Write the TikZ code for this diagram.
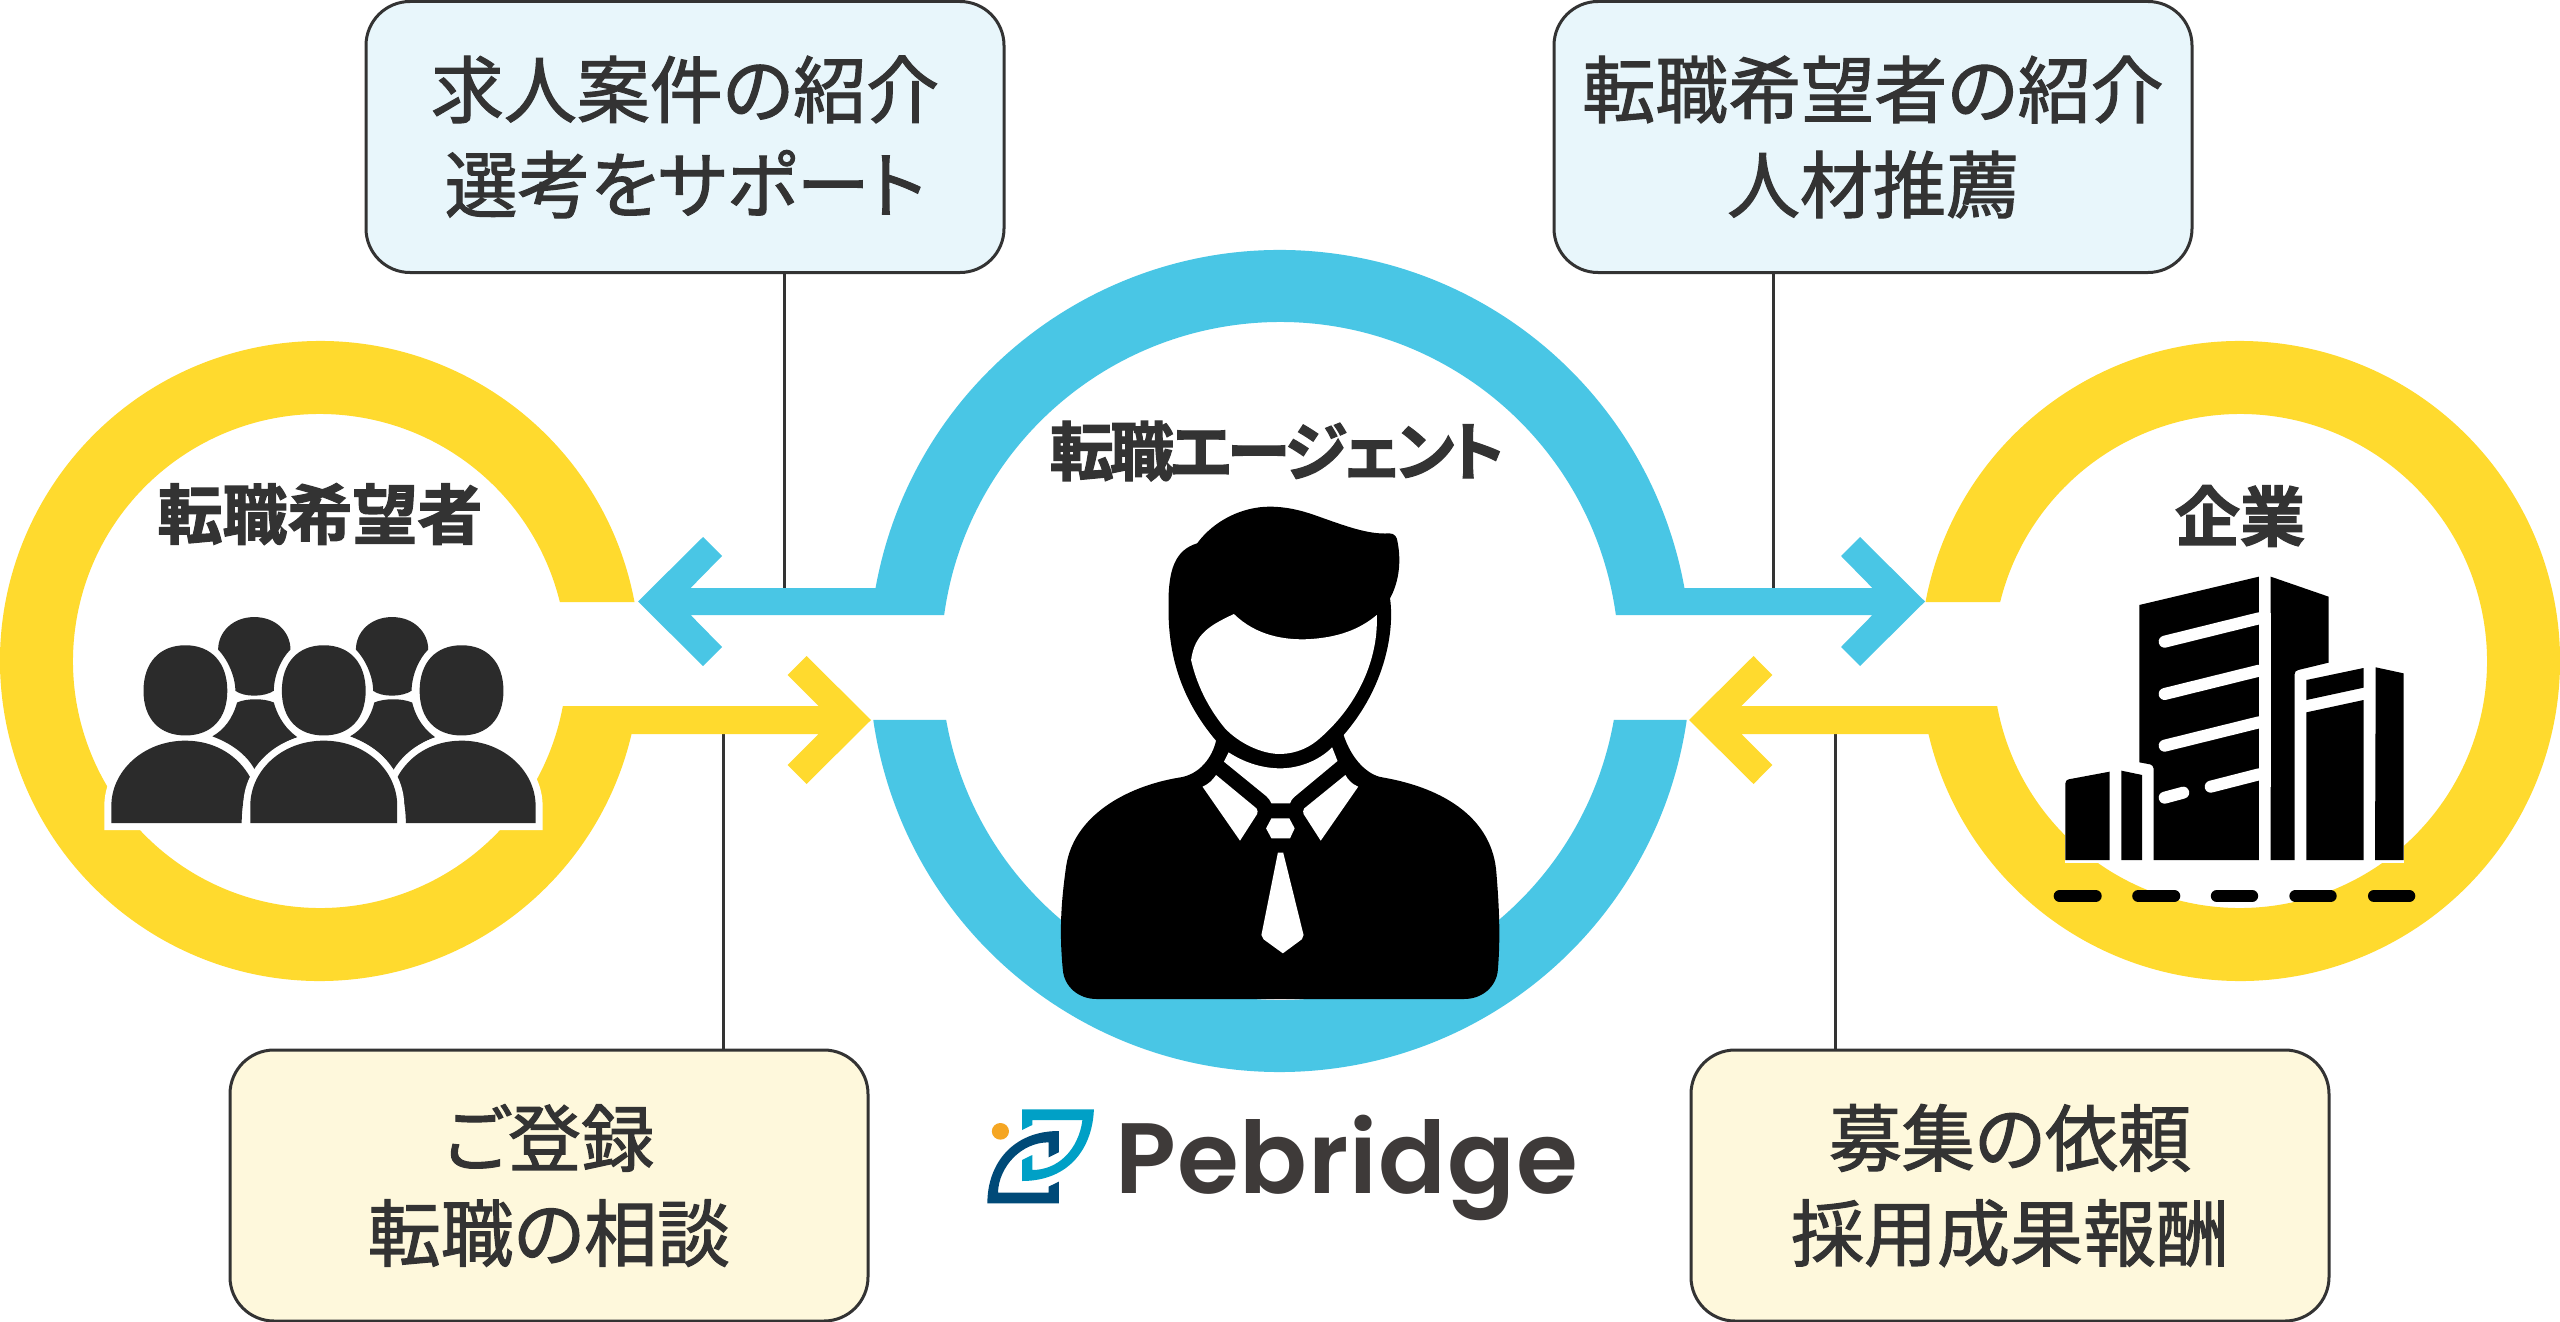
\documentclass[tikz,border=0pt]{standalone}
\usepackage{fontspec}
\newfontfamily\boxfont[FakeBold=1.5,RawFeature=+palt]{Noto Sans CJK JP}
\newfontfamily\headfont[FakeBold=2,RawFeature=+palt]{Noto Sans CJK JP Bold}
\newfontfamily\headtight[FakeBold=2,RawFeature=+palt,LetterSpace=-6]{Noto Sans CJK JP Bold}
\newfontfamily\logofont[LetterSpace=1]{Poppins SemiBold}
\definecolor{ringyellow}{HTML}{FFDA2E}
\definecolor{ringblue}{HTML}{49C6E5}
\definecolor{boxblue}{HTML}{E8F6FB}
\definecolor{boxyellow}{HTML}{FEF8DC}
\definecolor{ink}{HTML}{333333}
\definecolor{peoplegray}{HTML}{2B2B2B}
\definecolor{logolight}{HTML}{00A0C6}
\definecolor{logodark}{HTML}{004A78}
\definecolor{logoorange}{HTML}{F5A623}
\definecolor{logotext}{HTML}{3E3A39}
\tikzset{
  infobox/.style={draw=ink,line width=3pt,rounded corners=44pt,minimum width=638pt,minimum height=271pt,inner sep=0pt,align=center,text=ink,font=\boxfont\fontsize{73}{95}\selectfont},
  bluebox/.style={infobox,fill=boxblue},
  yellowbox/.style={infobox,fill=boxyellow},
  heading/.style={text=ink,inner sep=0pt,font=\headfont\fontsize{65}{65}\selectfont},
  headingtight/.style={text=ink,inner sep=0pt,font=\headtight\fontsize{64}{64}\selectfont},
  conn/.style={draw=ink,line width=3pt},
  manicon/.style={shift={(1000,500)},xscale=0.35714,yscale=0.33333},
  bldicon/.style={shift={(1900,520)},xscale=0.35714,yscale=0.33333},
  pplicon/.style={shift={(0,320)},xscale=0.57405,yscale=0.43367},
  logoicon/.style={shift={(960,1080)},xscale=0.40816,yscale=0.33333},
}
\newcommand{\fronthead}[1]{(#1-73,855) .. controls (#1-73,790) and (#1-45,750) .. (#1,750) .. controls (#1+45,750) and (#1+73,790) .. (#1+73,855) .. controls (#1+73,920) and (#1+45,958) .. (#1,958) .. controls (#1-45,958) and (#1-73,920) .. (#1-73,855) -- cycle}
\newcommand{\sideL}{(194,1160) -- (194,1120) .. controls (194,1040) and (250,970) .. (323,970) .. controls (375,970) and (415,1005) .. (436,1055) .. controls (425,1090) and (421,1125) .. (421,1160) -- cycle}
\newcommand{\sideR}{(933,1160) -- (933,1120) .. controls (933,1040) and (877,970) .. (804,970) .. controls (752,970) and (712,1005) .. (692,1055) .. controls (702,1090) and (707,1125) .. (707,1160) -- cycle}
\newcommand{\midbody}{(436,1160) -- (436,1120) .. controls (436,1040) and (490,970) .. (564,970) .. controls (638,970) and (692,1040) .. (692,1120) -- (692,1160) -- cycle}
\begin{document}
\begin{tikzpicture}[x=1pt,y=1pt,yscale=-1]
\useasboundingbox (0,0) rectangle (2560,1322);
\fill[white] (0,0) rectangle (2560,1322);
% boxes
\node[bluebox] (tl) at (685,137) {求人案件の紹介\\選考をサポート};
\node[bluebox] (tr) at (1873,137) {転職希望者の紹介\\人材推薦};
\node[yellowbox] (bl) at (549,1185.5) {ご登録\\転職の相談};
\node[yellowbox] (br) at (2010,1185.5) {募集の依頼\\採用成果報酬};
% connectors
\coordinate (a1) at (784,590);
\coordinate (a2) at (1773,590);
\coordinate (a3) at (723.5,732);
\coordinate (a4) at (1835,732);
\draw[conn] (tl.south -| a1) -- (a1);
\draw[conn] (tr.south -| a2) -- (a2);
\draw[conn] (bl.north -| a3) -- (a3);
\draw[conn] (br.north -| a4) -- (a4);
% left yellow ring and arrow
\fill[ringyellow] ([shift={(320,661)}]-10.62:320) arc[start angle=-10.62,end angle=-346.81,radius=320pt]
  -- (818.6,734) -- (787.6,765) -- (806.5,784) -- (871,720) -- (806.5,656) -- (787.6,675) -- (818.6,706)
  -- ([shift={(320,661)}]10.5:247) arc[start angle=-349.5,end angle=-13.82,radius=247pt] -- cycle;
% right yellow ring and arrow
\fill[ringyellow] ([shift={(2240,661)}]190.62:320) arc[start angle=190.62,end angle=526.81,radius=320pt]
  -- (1741.4,734) -- (1772.4,765) -- (1753.5,784) -- (1689,720) -- (1753.5,656) -- (1772.4,675) -- (1741.4,706)
  -- ([shift={(2240,661)}]169.5:247) arc[start angle=529.5,end angle=193.82,radius=247pt] -- cycle;
% blue ring upper with both arrows
\fill[ringblue] ([shift={(1280,661)}]190.23:411) arc[start angle=190.23,end angle=349.77,radius=411pt]
  -- (1872.4,588) -- (1841,556) -- (1860,537) -- (1925,601.5) -- (1860,666) -- (1841,647) -- (1872.4,615)
  -- ([shift={(1280,661)}]-7.8:339) arc[start angle=-7.8,end angle=-172.2,radius=339pt]
  -- (690.6,615) -- (722,647) -- (703,666) -- (638,601.5) -- (703,537) -- (722,556) -- (690.6,588) -- cycle;
% blue ring lower
\fill[ringblue] ([shift={(1280,661)}]171.75:411) arc[start angle=171.75,end angle=8.25,radius=411pt]
  -- ([shift={(1280,661)}]10.02:339) arc[start angle=10.02,end angle=169.98,radius=339pt] -- cycle;
% people icon
\begin{scope}[pplicon]
  \fill[peoplegray] (380,760) .. controls (380,720) and (405,685) .. (443,685) .. controls (481,685) and (506,720) .. (506,760) .. controls (490,780) and (477,820) .. (477,855) .. controls (460,870) and (425,870) .. (410,855) .. controls (410,820) and (395,780) .. (380,760) -- cycle;
  \fill[peoplegray] (620,760) .. controls (620,720) and (645,685) .. (683,685) .. controls (721,685) and (746,720) .. (746,760) .. controls (730,780) and (717,820) .. (717,855) .. controls (700,870) and (665,870) .. (650,855) .. controls (650,820) and (635,780) .. (620,760) -- cycle;
  \fill[peoplegray] (413,882) .. controls (430,872) and (460,872) .. (477,882) .. controls (485,920) and (500,945) .. (518,962) .. controls (490,975) and (465,1000) .. (445,1040) .. controls (430,1000) and (400,975) .. (370,960) .. controls (390,945) and (405,920) .. (413,882) -- cycle;
  \fill[peoplegray] (652,882) .. controls (670,872) and (700,872) .. (718,882) .. controls (725,920) and (740,945) .. (758,962) .. controls (730,975) and (705,1000) .. (685,1040) .. controls (670,1000) and (640,975) .. (610,960) .. controls (630,945) and (645,920) .. (652,882) -- cycle;
  \filldraw[fill=peoplegray,draw=white,line width=14pt,miter limit=10] \sideL;
  \filldraw[fill=peoplegray,draw=white,line width=14pt,miter limit=10] \sideR;
  \fill[peoplegray] \sideL;
  \fill[peoplegray] \sideR;
  \filldraw[fill=peoplegray,draw=white,line width=14pt,miter limit=10] \midbody;
  \fill[peoplegray] \midbody;
  \foreach \hx in {323,564,804}{
    \filldraw[fill=peoplegray,draw=white,line width=9pt] \fronthead{\hx};
    \fill[peoplegray] \fronthead{\hx};
  }
\end{scope}
% man icon
\begin{scope}[manicon]
  \fill[black] (552,130) .. controls (600,60) and (680,20) .. (755,20) .. controls (800,20) and (840,30) .. (880,45) .. controls (960,75) and (1030,105) .. (1090,100) .. controls (1105,100) and (1112,112) .. (1113,125) .. controls (1125,190) and (1115,250) .. (1092,295) .. controls (1105,390) and (1080,560) .. (962,705) .. controls (985,780) and (1030,825) .. (1070,832) .. controls (1250,865) and (1380,960) .. (1390,1120) .. controls (1400,1250) and (1400,1330) .. (1394,1410) .. controls (1390,1460) and (1350,1497) .. (1300,1497) -- (270,1497) .. controls (220,1497) and (180,1460) .. (176,1410) .. controls (165,1290) and (172,1200) .. (185,1100) .. controls (205,950) and (350,860) .. (500,833) .. controls (560,825) and (595,770) .. (605,722) .. controls (500,590) and (470,450) .. (472,320) .. controls (470,210) and (490,150) .. (552,130) -- cycle;
  \fill[white] (535,480) .. controls (545,400) and (590,375) .. (655,342) .. controls (720,410) and (800,418) .. (850,418) .. controls (950,415) and (1010,385) .. (1055,345) .. controls (1060,480) and (1000,620) .. (890,720) .. controls (850,755) and (810,762) .. (780,762) .. controls (730,760) and (670,730) .. (630,685) .. controls (580,620) and (550,550) .. (535,480) -- cycle;
  \fill[white] (640,757) .. controls (680,785) and (730,805) .. (785,805) .. controls (840,805) and (895,780) .. (930,742) -- (945,783) -- (825,890) .. controls (818,896) and (814,903) .. (812,910) -- (760,910) .. controls (756,900) and (752,895) .. (745,888) -- (627,785) -- cycle;
  \fill[white] (605,825) -- (718,925) .. controls (722,930) and (722,938) .. (720,942) -- (672,1022) -- (567,860) .. controls (585,852) and (595,840) .. (605,825) -- cycle;
  \fill[white] (967,825) -- (852,925) .. controls (848,930) and (848,938) .. (850,942) -- (898,1022) -- (1003,860) .. controls (985,852) and (975,840) .. (967,825) -- cycle;
  \fill[white] (760,955) -- (810,955) -- (825,985) -- (812,1015) -- (760,1015) -- (745,985) -- cycle;
  \fill[white] (778,1058) -- (793,1058) -- (850,1305) -- (845,1318) -- (792,1360) -- (738,1318) -- (732,1305) -- cycle;
\end{scope}
% building icon
\begin{scope}[bldicon]
  \fill[white] (463,780) rectangle (1410,1030);
  \fill[white] (670,170) rectangle (1410,780);
  \fill[black] (670,255) -- (1005,170) -- (1005,1020) -- (710,1020) -- (710,745) .. controls (710,738) and (705,735) .. (700,733) -- (670,727) -- cycle;
  \fill[black] (1038,170) -- (1200,230) -- (1200,428) -- (1115,450) .. controls (1108,452) and (1105,456) .. (1105,462) -- (1105,1020) -- (1038,1020) -- cycle;
  \fill[black] (1138,480) -- (1298,444) -- (1298,503) -- (1138,540) -- cycle;
  \fill[black] (1138,577) -- (1298,540) -- (1298,1020) -- (1138,1020) -- cycle;
  \fill[black] (1332,442) -- (1410,460) -- (1410,1020) -- (1330,1020) -- cycle;
  \fill[black] (463,790) .. controls (463,783) and (467,780) .. (472,778) -- (587,755) -- (587,1020) -- (463,1020) -- cycle;
  \fill[black] (620,752) -- (678,765) -- (678,1020) -- (620,1020) -- cycle;
  \draw[white,line width=12pt,line cap=round] (741,365) -- (1005,295);
  \draw[white,line width=12pt,line cap=round] (741,522) -- (1005,452);
  \draw[white,line width=12pt,line cap=round] (741,677) -- (1005,607);
  \draw[white,line width=12pt,line cap=round] (741,833) -- (793,818);
  \draw[white,line width=12pt,line cap=round] (870,800) -- (1005,763);
  \fill[white] (1005,280) rectangle (1038,800);
  \foreach \da/\db in {447/548,667/768,887/986,1107/1206,1327/1426}{
    \draw[black,line width=12pt,line cap=round] (\da,1128) -- (\db,1128);
  }
\end{scope}
% headings
\node[heading] (h1) at (320,514) {転職希望者};
\node[headingtight] (h2) at (1277,451) {転職エージェント};
\node[heading] (h3) at (2240,516) {企業};
% logo
\begin{scope}[logoicon]
  \fill[logoorange] (99,154) ellipse[x radius=21,y radius=25];
  \fill[logolight] (152,88) -- (328,88) .. controls (325,200) and (270,303) .. (152,303) -- (152,240) -- (177,225) -- (177,270) .. controls (240,270) and (290,210) .. (300,120) -- (177,120) -- (177,135) -- (152,150) -- cycle;
  \fill[logodark] (242,153) .. controls (130,153) and (67,250) .. (67,370) -- (242,370) -- (242,305) -- (217,320) -- (217,338) -- (93,338) .. controls (95,260) and (150,187) .. (217,187) -- (217,232) -- (242,217) -- cycle;
\end{scope}
\node[anchor=base west,inner sep=0pt,text=logotext,font=\logofont\fontsize{100}{100}\selectfont] (logo) at (1115,1193) {Pebridge};
\end{tikzpicture}
\end{document}
